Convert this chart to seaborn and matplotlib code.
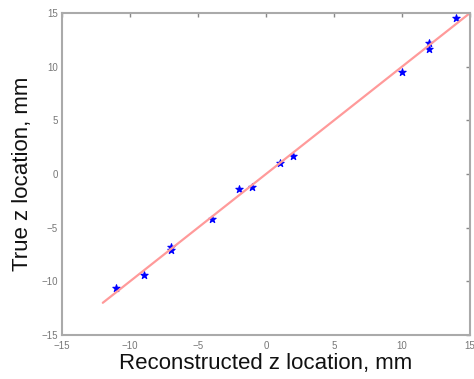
import numpy as np
import pandas as pd
import seaborn as sns
import matplotlib.pyplot as plt

# reconstructed vs true z location (mm)
recon_z = [-11, -9, -7, -7, -4, -2, -1, 1, 2, 10, 12, 12, 14]
true_z = [-10.6, -9.4, -6.8, -7.1, -4.2, -1.4, -1.2, 1.0, 1.7, 9.5, 12.2, 11.6, 14.5]
fit_x = [-12, 15]
fit_y = [-12, 15]
ticks = [-15, -10, -5, 0, 5, 10, 15]

df = pd.DataFrame({'recon': recon_z, 'true': true_z})

sns.set_style('white')
plt.rcParams['font.family'] = ['Liberation Sans', 'DejaVu Sans']

fig = plt.figure(figsize=(4.74, 3.79), dpi=100)
ax = fig.add_axes([62/474, 1-335/379, (470-62)/474, (335-13)/379])

sns.lineplot(x=fit_x, y=fit_y, color='#ff9a9a', linewidth=1.6, ax=ax)
sns.scatterplot(data=df, x='recon', y='true', marker='*', s=30, color='blue',
                edgecolor='blue', linewidth=0.8, ax=ax)

ax.set_xlim(-15, 15)
ax.set_ylim(-15, 15)
ax.set_xticks(ticks)
ax.set_yticks(ticks)
ax.tick_params(direction='in', length=3, width=1, colors='#888888',
               labelsize=7, labelcolor='#777777', top=True, right=True)
ax.tick_params(axis='x', pad=4)
ax.tick_params(axis='y', pad=3)
for s in ax.spines.values():
    s.set_color('#aaaaaa')
    s.set_linewidth(1.5)
ax.set_xlabel('Reconstructed z location, mm', fontsize=16, labelpad=2, color='#111111')
ax.set_ylabel('True z location, mm', fontsize=16, labelpad=6, color='#111111')

fig.savefig('out.png', dpi=100)
